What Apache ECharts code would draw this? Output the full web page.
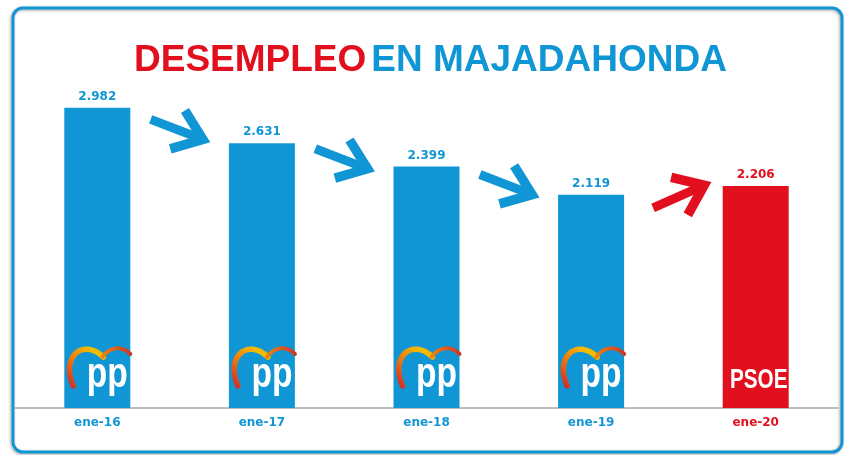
<!DOCTYPE html>
<html>
<head>
<meta charset="utf-8">
<script src="https://cdn.jsdelivr.net/npm/echarts@6/dist/echarts.min.js"></script>
<style>
  html, body { margin: 0; padding: 0; background: #fff; }
  #chart { width: 848px; height: 455px; }
</style>
</head>
<body>
<div id="chart"></div>
<script>
// datos
var categories = ["ene-16", "ene-17", "ene-18", "ene-19", "ene-20"];
var parados = [2982, 2631, 2399, 2119, 2206];
var partidos = ["PP", "PP", "PP", "PP", "PSOE"];

var AZUL = "#1196d5";
var ROJO = "#e2101e";

function colorPartido(i) {
  return partidos[i] === "PSOE" ? ROJO : AZUL;
}
function miles(v) {
  return String(v).replace(/\B(?=(\d{3})+(?!\d))/g, ".");
}

var chart = echarts.init(document.getElementById("chart"));

// logos al pie de cada barra
function renderLogo(params, api) {
  var i = api.value(0);
  var p = api.coord([i, 0]);
  var cx = p[0], y0 = p[1];
  if (partidos[i] === "PSOE") {
    return {
      type: "text",
      x: cx + 3,
      y: y0 - 28,
      scaleX: 0.74,
      style: {
        text: "PSOE",
        x: 0,
        y: 0,
        fill: "#fff",
        font: "bold 28px 'Liberation Sans', sans-serif",
        align: "center",
        verticalAlign: "middle"
      }
    };
  }
  return {
    type: "group",
    children: [
      {
        type: "bezierCurve",
        shape: {
          x1: cx - 24, y1: y0 - 22,
          cpx1: cx - 37, cpy1: y0 - 52,
          cpx2: cx - 14, cpy2: y0 - 70,
          x2: cx + 6, y2: y0 - 51
        },
        style: {
          fill: null,
          lineWidth: 5.5,
          lineCap: "round",
          stroke: new echarts.graphic.LinearGradient(0, 1, 1, 0, [
            { offset: 0, color: "#c81f2d" },
            { offset: 0.45, color: "#ef7d0c" },
            { offset: 0.8, color: "#f4bf00" },
            { offset: 1, color: "#f0a000" }
          ])
        }
      },
      {
        type: "bezierCurve",
        shape: {
          x1: cx + 5, y1: y0 - 51,
          cpx1: cx + 13, cpy1: y0 - 62,
          cpx2: cx + 25, cpy2: y0 - 62,
          x2: cx + 33, y2: y0 - 54
        },
        style: {
          fill: null,
          lineWidth: 4,
          lineCap: "round",
          stroke: new echarts.graphic.LinearGradient(0, 0, 1, 0, [
            { offset: 0, color: "#ee8a10" },
            { offset: 1, color: "#c8322a" }
          ])
        }
      },
      {
        type: "text",
        x: cx + 10,
        y: y0 - 33,
        scaleX: 0.8,
        style: {
          text: "pp",
          x: 0,
          y: 0,
          fill: "#fff",
          font: "bold 42px 'Liberation Sans', sans-serif",
          align: "center",
          verticalAlign: "middle"
        }
      }
    ]
  };
}

// flechas entre barras
function renderFlecha(params, api) {
  var i = api.value(0);
  var a = api.coord([i, parados[i]]);
  var b = api.coord([i + 1, parados[i + 1]]);
  var sube = parados[i + 1] > parados[i];
  var cx = (a[0] + b[0]) / 2 + (sube ? 8 : 0);
  var cy = (a[1] + b[1]) / 2 + 5;
  var ang = (sube ? -24 : 21) * Math.PI / 180;
  var dx = Math.cos(ang), dy = Math.sin(ang);
  var half = 31;
  var tip = [cx + dx * (half - 6), cy + dy * (half - 6)];
  var start = [cx - dx * half, cy - dy * half];
  var back = ang + Math.PI;
  var arm = 34, open = 37 * Math.PI / 180;
  var a1 = [tip[0] + Math.cos(back + open) * arm, tip[1] + Math.sin(back + open) * arm];
  var a2 = [tip[0] + Math.cos(back - open) * arm, tip[1] + Math.sin(back - open) * arm];
  var col = sube ? ROJO : AZUL;
  return {
    type: "group",
    children: [
      {
        type: "polyline",
        shape: { points: [start, [tip[0] - dx * 4, tip[1] - dy * 4]] },
        style: { stroke: col, lineWidth: 9, lineCap: "butt", fill: null }
      },
      {
        type: "polyline",
        shape: { points: [a1, tip, a2] },
        style: { stroke: col, lineWidth: 9.5, lineJoin: "miter", miterLimit: 10, lineCap: "butt", fill: null }
      }
    ]
  };
}

var option = {
  animation: false,
  title: {
    left: 129,
    top: 36,
    text: "{r|DESEMPLEO} {b|EN MAJADAHONDA}",
    textStyle: {
      rich: {
        r: { color: ROJO, fontSize: 37, fontWeight: "bold", fontFamily: "Liberation Sans", lineHeight: 40 },
        b: { color: AZUL, fontSize: 37, fontWeight: "bold", fontFamily: "Liberation Sans", lineHeight: 40 }
      }
    }
  },
  graphic: [
    {
      type: "rect",
      shape: { x: 13, y: 8, width: 829, height: 444, r: 10 },
      style: {
        fill: null,
        stroke: "#1196d5",
        lineWidth: 3,
        shadowBlur: 3,
        shadowColor: "rgba(0,0,0,0.35)",
        shadowOffsetX: -1,
        shadowOffsetY: 1
      },
      z: 0
    }
  ],
  grid: { left: 15, right: 10, top: 106, bottom: 47 },
  xAxis: {
    type: "category",
    data: categories,
    axisTick: { show: false },
    axisLine: { lineStyle: { color: "#a9a9a9", width: 1.5 } },
    axisLabel: {
      margin: 9,
      fontSize: 12,
      fontWeight: "bold",
      fontFamily: "DejaVu Sans",
      color: function (v, i) { return colorPartido(i); }
    }
  },
  yAxis: {
    type: "value",
    min: 0,
    max: 3000,
    show: false,
    splitLine: { show: false }
  },
  series: [
    {
      type: "bar",
      barWidth: 66,
      data: parados.map(function (v, i) {
        return { value: v, itemStyle: { color: colorPartido(i) }, label: { color: colorPartido(i) } };
      }),
      label: {
        show: true,
        position: "top",
        distance: 5,
        fontSize: 12,
        fontWeight: "bold",
        fontFamily: "DejaVu Sans",
        formatter: function (p) { return miles(p.value); }
      }
    },
    {
      type: "custom",
      renderItem: renderLogo,
      data: parados.map(function (v, i) { return [i]; }),
      z: 5,
      silent: true
    },
    {
      type: "custom",
      renderItem: renderFlecha,
      data: parados.slice(0, -1).map(function (v, i) { return [i]; }),
      clip: false,
      z: 5,
      silent: true
    }
  ]
};

chart.setOption(option);
window.addEventListener("resize", function () {
  chart.resize();
});
</script>
</body>
</html>
